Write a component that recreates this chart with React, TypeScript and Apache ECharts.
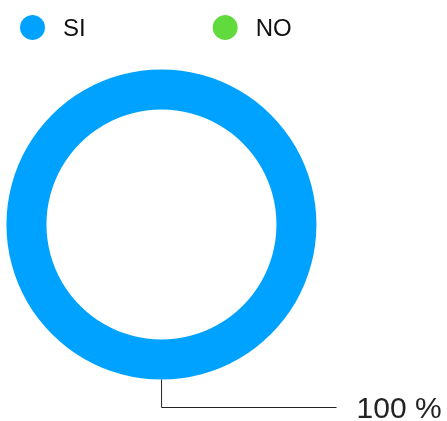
import React, { useEffect, useRef } from "react";
import * as echarts from "echarts";

const categories = ["SI", "NO"];
const values = [100, 0];
const colors = ["#00A2FF", "#60DA3C"];

export default function App() {
  const ref = useRef<HTMLDivElement>(null);
  useEffect(() => {
    if (!ref.current) return;
    const chart = echarts.init(ref.current, undefined, { renderer: "svg" });
    chart.setOption({
      animation: false,
      color: colors,
      textStyle: { fontFamily: "Liberation Sans, Arial, sans-serif" },
      legend: {
        left: 15,
        top: 10,
        icon: "circle",
        itemWidth: 25,
        itemHeight: 25,
        itemGap: 127,
        data: categories,
        textStyle: {
          fontSize: 24,
          color: "#111",
          padding: [0, 0, 0, 13],
        },
      },
      series: [
        {
          type: "pie",
          center: [161.5, 224.5],
          radius: [115, 155],
          startAngle: 90.02,
          minShowLabelAngle: 1,
          avoidLabelOverlap: false,
          data: categories.map((c, i) => ({ name: c, value: values[i] })),
          label: {
            show: true,
            formatter: "{d} %",
            fontSize: 30,
            lineHeight: 24,
            color: "#222",
            distanceToLabelLine: 20,
          },
          labelLine: {
            show: true,
            length: 28,
            length2: 175,
            lineStyle: { color: "#222", width: 1 },
          },
          emphasis: { disabled: true },
        },
      ],
    });
    return () => chart.dispose();
  }, []);
  return (
    <div
      ref={ref}
      style={{ position: "fixed", left: 0, top: 0, width: 447, height: 421 }}
    />
  );
}
